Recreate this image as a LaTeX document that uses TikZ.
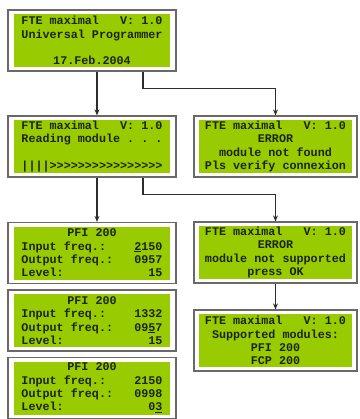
\documentclass[tikz,border=0pt]{standalone}
\usepackage{fontspec}
\setmonofont{Liberation Mono}
\usetikzlibrary{arrows.meta}
\definecolor{lcdgreen}{RGB}{153,204,0}
\definecolor{lcdtext}{RGB}{28,36,8}
\definecolor{framegray}{RGB}{105,105,105}
\definecolor{wirecol}{RGB}{45,45,45}
% one 20-column display row: left part, right part
\newcommand\lcdrow[2]{\makebox[141bp][l]{#1\hfill#2}}
% one centred display row
\newcommand\lcdmid[1]{\makebox[141bp][c]{#1}}
\tikzset{
  lcd/.style={fill=lcdgreen, text=lcdtext, inner sep=0pt,
    minimum width=#1, minimum height=53bp, align=center,
    font=\ttfamily\bfseries\fontsize{11.75bp}{13.3bp}\selectfont},
  lcd/.default=156bp,
  panel/.style={draw=framegray, line width=1.2bp, fill=white,
    inner sep=0pt, minimum width=#1, minimum height=61bp},
  panel/.default=168bp,
  wire/.style={draw=wirecol, line width=1.1bp, -{Stealth[length=6bp,width=5bp]}}
}
\begin{document}
\begin{tikzpicture}[x=1bp,y=-1bp]
\useasboundingbox[fill=white] (0,0) rectangle (360,419);

% start-up screen
\node[panel] (b1) at (92,40.5) {};
\node[lcd] (g1) at (b1) {\lcdrow{FTE maximal}{V: 1.0}\\
  \lcdmid{Universal Programmer}\\ \mbox{}\\ \lcdmid{17.Feb.2004}};

% reading module
\node[panel] (b2) at (92,146.5) {};
\node[lcd] (g2) at (b2) {\lcdrow{FTE maximal}{V: 1.0}\\
  \lcdrow{Reading module . . .}{}\\ \mbox{}\\
  \lcdrow{||||>>>>>>>>>>>>>>>>}{}};

% module not found
\node[panel=163bp] (b3) at (275.5,146.5) {};
\node[lcd=153bp] (g3) at (b3) {\lcdrow{FTE maximal}{V: 1.0}\\
  \lcdmid{ERROR}\\ \lcdmid{module not found}\\ \lcdmid{Pls verify connexion}};

% module not supported
\node[panel=163bp] (e2) at (275.5,252.5) {};
\node[lcd=153bp] (ge2) at (e2) {\lcdrow{FTE maximal}{V: 1.0}\\
  \lcdmid{ERROR}\\ \lcdmid{module not supported}\\ \lcdmid{press OK}};

% supported modules
\node[panel=163bp] (sup) at (275.5,340.5) {};
\node[lcd=153bp] (gsup) at (sup) {\lcdrow{FTE maximal}{V: 1.0}\\
  \lcdmid{Supported modules:}\\ \lcdmid{PFI 200}\\ \lcdmid{FCP 200}};

% PFI 200 parameter screens
\node[panel] (pa) at (92,253) {};
\node[lcd] (gpa) at (pa) {\lcdmid{PFI 200}\\
  \lcdrow{Input freq.:}{\underline{2}150}\\
  \lcdrow{Output freq.:}{0957}\\
  \lcdrow{Level:}{15}};

\node[panel] (pb) at (92,320.5) {};
\node[lcd] (gpb) at (pb) {\lcdmid{PFI 200}\\
  \lcdrow{Input freq.:}{1332}\\
  \lcdrow{Output freq.:}{09\underline{5}7}\\
  \lcdrow{Level:}{15}};

\node[panel] (pc) at (92,388) {};
\node[lcd] (gpc) at (pc) {\lcdmid{PFI 200}\\
  \lcdrow{Input freq.:}{2150}\\
  \lcdrow{Output freq.:}{0998}\\
  \lcdrow{Level:}{0\underline{3}}};

% connectors
\draw[wire] ([xshift=5bp]b1.south) -- ([xshift=5bp]b2.north);
\draw[wire] ([xshift=51bp]b1.south) -- ++(0,17) -| (b3.north);
\draw[wire] ([xshift=5bp]b2.south) -- ([xshift=5bp]pa.north);
\draw[wire] ([xshift=51bp]b2.south) -- ++(0,17) -| (e2.north);
\draw[wire] (e2.south) -- (sup.north);
\end{tikzpicture}
\end{document}
